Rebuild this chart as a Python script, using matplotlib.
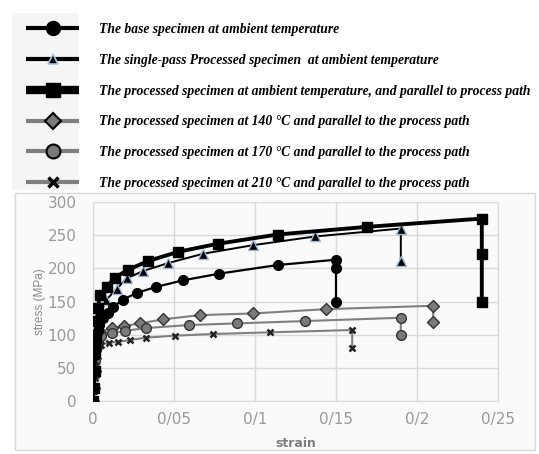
import matplotlib
matplotlib.use("Agg")
import matplotlib.pyplot as plt
from matplotlib.patches import Rectangle
from matplotlib.lines import Line2D

# ---- data ----
base_strain = [0, 0.0005, 0.001, 0.0015, 0.002, 0.003, 0.004, 0.006, 0.009, 0.0123, 0.0187, 0.027, 0.039, 0.0557, 0.078, 0.114, 0.15, 0.15, 0.15]
base_stress = [0, 20, 45, 70, 90, 105, 115, 125, 133, 141.6, 153, 163, 172, 182, 192, 205, 213, 200, 150]

single_strain = [0, 0.0005, 0.001, 0.0015, 0.002, 0.003, 0.005, 0.008, 0.0146, 0.0208, 0.031, 0.0465, 0.068, 0.099, 0.137, 0.19, 0.19]
single_stress = [0, 25, 50, 75, 100, 120, 135, 152, 169, 185, 196, 208, 222, 235, 248, 260, 211]

amb_strain = [0, 0.0005, 0.001, 0.0015, 0.002, 0.0025, 0.003, 0.0043, 0.0085, 0.0136, 0.0218, 0.034, 0.0527, 0.077, 0.114, 0.169, 0.24, 0.24, 0.24]
amb_stress = [0, 20, 45, 75, 100, 120, 140, 160, 172, 186, 198, 211, 225, 237, 251, 262.5, 275, 222, 150]

t140_strain = [0, 0.0005, 0.001, 0.0015, 0.002, 0.003, 0.0043, 0.0115, 0.019, 0.029, 0.043, 0.066, 0.099, 0.144, 0.21, 0.21]
t140_stress = [0, 20, 45, 65, 80, 95, 104, 110, 113, 117, 123, 129.5, 132, 138.5, 143.5, 118.4]

t170_strain = [0, 0.0005, 0.001, 0.0015, 0.002, 0.003, 0.005, 0.012, 0.02, 0.033, 0.059, 0.089, 0.131, 0.19, 0.19]
t170_stress = [0, 18, 40, 60, 78, 90, 98, 102, 106, 110, 114.5, 117, 120.5, 125.5, 99.4]

t210_strain = [0, 0.0005, 0.001, 0.0015, 0.002, 0.003, 0.005, 0.01, 0.0156, 0.0228, 0.033, 0.0506, 0.074, 0.109, 0.16, 0.16]
t210_stress = [0, 15, 35, 55, 70, 80, 85, 88, 89, 92, 95.5, 98.5, 101, 103.5, 107, 80]

labels = [
    "The base specimen at ambient temperature",
    "The single-pass Processed specimen  at ambient temperature",
    "The processed specimen at ambient temperature, and parallel to process path",
    "The processed specimen at 140 \u00b0C and parallel to the process path",
    "The processed specimen at 170 \u00b0C and parallel to the process path",
    "The processed specimen at 210 \u00b0C and parallel to the process path",
]
xticks = [0, 0.05, 0.1, 0.15, 0.2, 0.25]
xticklabels = ["0", "0/05", "0/1", "0/15", "0/2", "0/25"]
yticks = [0, 50, 100, 150, 200, 250, 300]

# ---- figure ----
fig = plt.figure(figsize=(5.39, 4.54), dpi=100)
fig.patches.append(Rectangle((15/539, 1-450/454), 520/539, 257/454, transform=fig.transFigure,
                             facecolor="#fafafa", edgecolor="#d9d9d9", lw=1, zorder=-5))
fig.patches.append(Rectangle((12/539, 1-190/454), 66/539, 177/454, transform=fig.transFigure,
                             facecolor="#f5f5f5", edgecolor="none", zorder=-5))

ax = fig.add_axes([93/539, 1-401/454, 405/539, 199/454])
ax.set_facecolor("none")
ax.set_zorder(2)

gray_line = "#7f7f7f"
gray_fill = "#7a7a7a"

styles = [
    dict(color="black", lw=1.6, marker="o", ms=7, mfc="black", mec="black"),
    dict(color="black", lw=1.4, marker="^", ms=7, mfc="black", mec="#9ab7d6", mew=1.0),
    dict(color="black", lw=2.8, marker="s", ms=7, mfc="black", mec="black"),
    dict(color=gray_line, lw=1.5, marker="D", ms=6, mfc=gray_fill, mec="#333333", mew=1.0),
    dict(color=gray_line, lw=1.5, marker="o", ms=7, mfc=gray_fill, mec="#333333", mew=1.0),
    dict(color=gray_line, lw=1.5, marker="x", ms=5, mec="#222222", mew=1.8),
]
series = [(base_strain, base_stress), (single_strain, single_stress), (amb_strain, amb_stress),
          (t140_strain, t140_stress), (t170_strain, t170_stress), (t210_strain, t210_stress)]
zs = [5, 4, 6, 3, 3, 3]
for (xs, ys), st, z in zip(series, styles, zs):
    ax.plot(xs, ys, zorder=z, **st)

ax.set_xlim(0, 0.25)
ax.set_ylim(0, 300)
ax.set_xticks(xticks)
ax.set_xticklabels(xticklabels)
ax.set_yticks(yticks)
ax.grid(True, color="#d9d9d9", lw=1)
ax.set_axisbelow(True)
for s in ax.spines.values():
    s.set_color("#d9d9d9")
ax.tick_params(axis="both", length=0, colors="#9a9a9a", labelsize=11)
ax.tick_params(axis="y", pad=12)
ax.tick_params(axis="x", pad=8)
ax.set_xlabel("strain", color="#7f7f7f", fontsize=9, fontweight="bold", labelpad=7)
ax.set_ylabel("stress (MPa)", color="#8a8a8a", fontsize=8.5, family="Liberation Sans", labelpad=1)

# legend (proxy handles, scaled up like the original)
leg_styles = [
    dict(color="black", lw=3, marker="o", ms=10, mfc="black", mec="black"),
    dict(color="black", lw=3, marker="^", ms=7, mfc="black", mec="#a9c4e0", mew=1.2),
    dict(color="black", lw=6, marker="s", ms=10, mfc="black", mec="black"),
    dict(color=gray_line, lw=3, marker="D", ms=8, mfc=gray_fill, mec="black", mew=1.5),
    dict(color=gray_line, lw=3, marker="o", ms=10, mfc=gray_fill, mec="black", mew=1.5),
    dict(color=gray_line, lw=3, marker="x", ms=7, mec="black", mew=2.5),
]
handles = [Line2D([], [], solid_capstyle="butt", **st) for st in leg_styles]
fig.legend(handles, labels, loc="upper left", bbox_to_anchor=(14/539, 1-11/454),
           frameon=False, handlelength=3.9, labelspacing=1.3, handletextpad=1.45,
           prop={"family": "Liberation Serif", "style": "italic", "weight": "bold", "size": 9.8})

fig.savefig("out.png", dpi=100)
